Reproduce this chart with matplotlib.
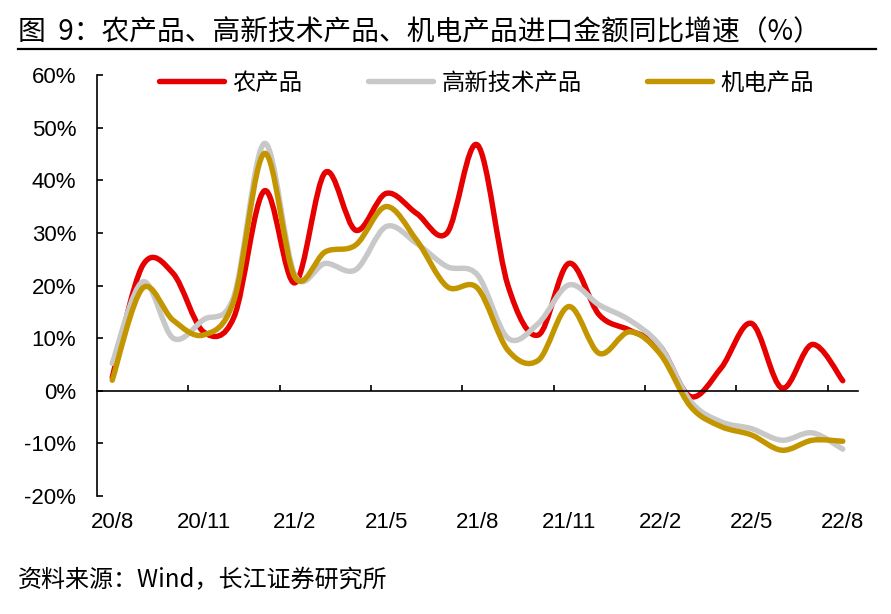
import numpy as np
import matplotlib
matplotlib.use("Agg")
import matplotlib.pyplot as plt
from matplotlib.path import Path
from matplotlib.patches import PathPatch
from matplotlib.lines import Line2D

plt.rcParams['font.family'] = ['Liberation Sans', 'Noto Sans CJK SC']

# 月份（2020/8 - 2022/8）
months = ['20/8', '20/9', '20/10', '20/11', '20/12', '21/1', '21/2', '21/3', '21/4',
          '21/5', '21/6', '21/7', '21/8', '21/9', '21/10', '21/11', '21/12', '22/1',
          '22/2', '22/3', '22/4', '22/5', '22/6', '22/7', '22/8']

# 进口金额同比增速（%）
agri = [2.5, 23.8, 22.3, 11.2, 14.0, 38.0, 20.5, 41.5, 30.5, 37.5, 33.7, 30.0, 46.7,
        20.0, 10.6, 24.2, 14.4, 11.5, 8.4, -1.1, 4.3, 12.8, 0.5, 8.8, 1.9]
hitech = [5.2, 20.7, 10.0, 13.5, 18.0, 47.0, 22.0, 24.2, 23.0, 31.2, 28.0, 23.6, 22.0,
          10.0, 12.8, 20.1, 16.3, 13.4, 8.5, -2.0, -5.9, -7.2, -9.4, -8.0, -11.1]
mech = [2.0, 19.5, 13.4, 10.6, 17.2, 45.1, 21.6, 26.4, 27.7, 35.0, 28.6, 19.8, 19.5,
        7.7, 5.8, 16.0, 7.1, 11.2, 7.0, -3.0, -6.8, -8.4, -11.3, -9.4, -9.6]

names = ['农产品', '高新技术产品', '机电产品']
colors = ['#E60000', '#C8C8C8', '#C39600']
series = [agri, hitech, mech]

tick_labels = ['20/8', '20/11', '21/2', '21/5', '21/8', '21/11', '22/2', '22/5', '22/8']


def smooth_path(xs, ys):
    # 平滑折线（类似 Excel 的平滑线），用三次贝塞尔曲线连接各数据点
    pts = np.column_stack([xs, ys]).astype(float)
    n = len(pts)
    verts = [pts[0]]
    codes = [Path.MOVETO]
    for i in range(n - 1):
        p0 = pts[i - 1] if i > 0 else pts[i]
        p1 = pts[i]
        p2 = pts[i + 1]
        p3 = pts[i + 2] if i + 2 < n else pts[i + 1]
        c1 = p1 + (p2 - p0) / 6.0
        c2 = p2 - (p3 - p1) / 6.0
        verts += [c1, c2, p2]
        codes += [Path.CURVE4] * 3
    return Path(verts, codes)


fig = plt.figure(figsize=(8.91, 6.14), dpi=100)
ax = fig.add_axes([97 / 891, 1 - 496 / 614, 761 / 891, 421 / 614])

x = np.arange(len(months))
for vals, c in zip(series, colors):
    patch = PathPatch(smooth_path(x, vals), facecolor='none', edgecolor=c, lw=3.9,
                      capstyle='round', joinstyle='round')
    ax.add_patch(patch)

ax.set_xlim(-0.5, len(months) - 0.5)
ax.set_ylim(-20, 60)

ax.spines['top'].set_visible(False)
ax.spines['right'].set_visible(False)
ax.spines['bottom'].set_position(('data', 0))
ax.spines['bottom'].set_linewidth(1.2)
ax.spines['left'].set_linewidth(1.2)

ax.set_yticks(np.arange(-20, 61, 10))
ax.set_yticklabels([f'{v}%' for v in range(-20, 61, 10)], fontsize=16)
ax.tick_params(axis='y', direction='in', length=4.5, width=1.2, pad=15)

ax.set_xticks(np.arange(2.5, len(months) - 1, 3))
ax.set_xticklabels([])
ax.tick_params(axis='x', direction='in', length=4.5, width=1.2)

for i, lab in zip(range(0, len(months), 3), tick_labels):
    ax.text(i, -0.064, lab, transform=ax.get_xaxis_transform(), ha='center', va='center',
            fontsize=16)

handles = [Line2D([], [], color=c, lw=3.9, solid_capstyle='round') for c in colors]
ax.legend(handles, names, loc='center', bbox_to_anchor=(0.512, 0.981), ncol=3, frameon=False,
          handlelength=2.8, handletextpad=0.35, columnspacing=2.8,
          borderpad=0, prop={'family': ['Noto Sans CJK SC'], 'size': 16.8})

fig.text(18 / 891, 1 - 32 / 614, '图  9：农产品、高新技术产品、机电产品进口金额同比增速（%）',
         fontsize=20, ha='left', va='center', family=['Noto Sans CJK SC', 'DejaVu Sans'])
fig.add_artist(Line2D([18 / 891, 876 / 891], [1 - 49 / 614, 1 - 49 / 614], color='black', lw=1.6))
fig.text(18 / 891, 1 - 580 / 614, '资料来源：Wind，长江证券研究所',
         fontsize=17.3, ha='left', va='center', family=['Noto Sans CJK SC', 'DejaVu Sans'])

fig.savefig('out.png', dpi=100)
